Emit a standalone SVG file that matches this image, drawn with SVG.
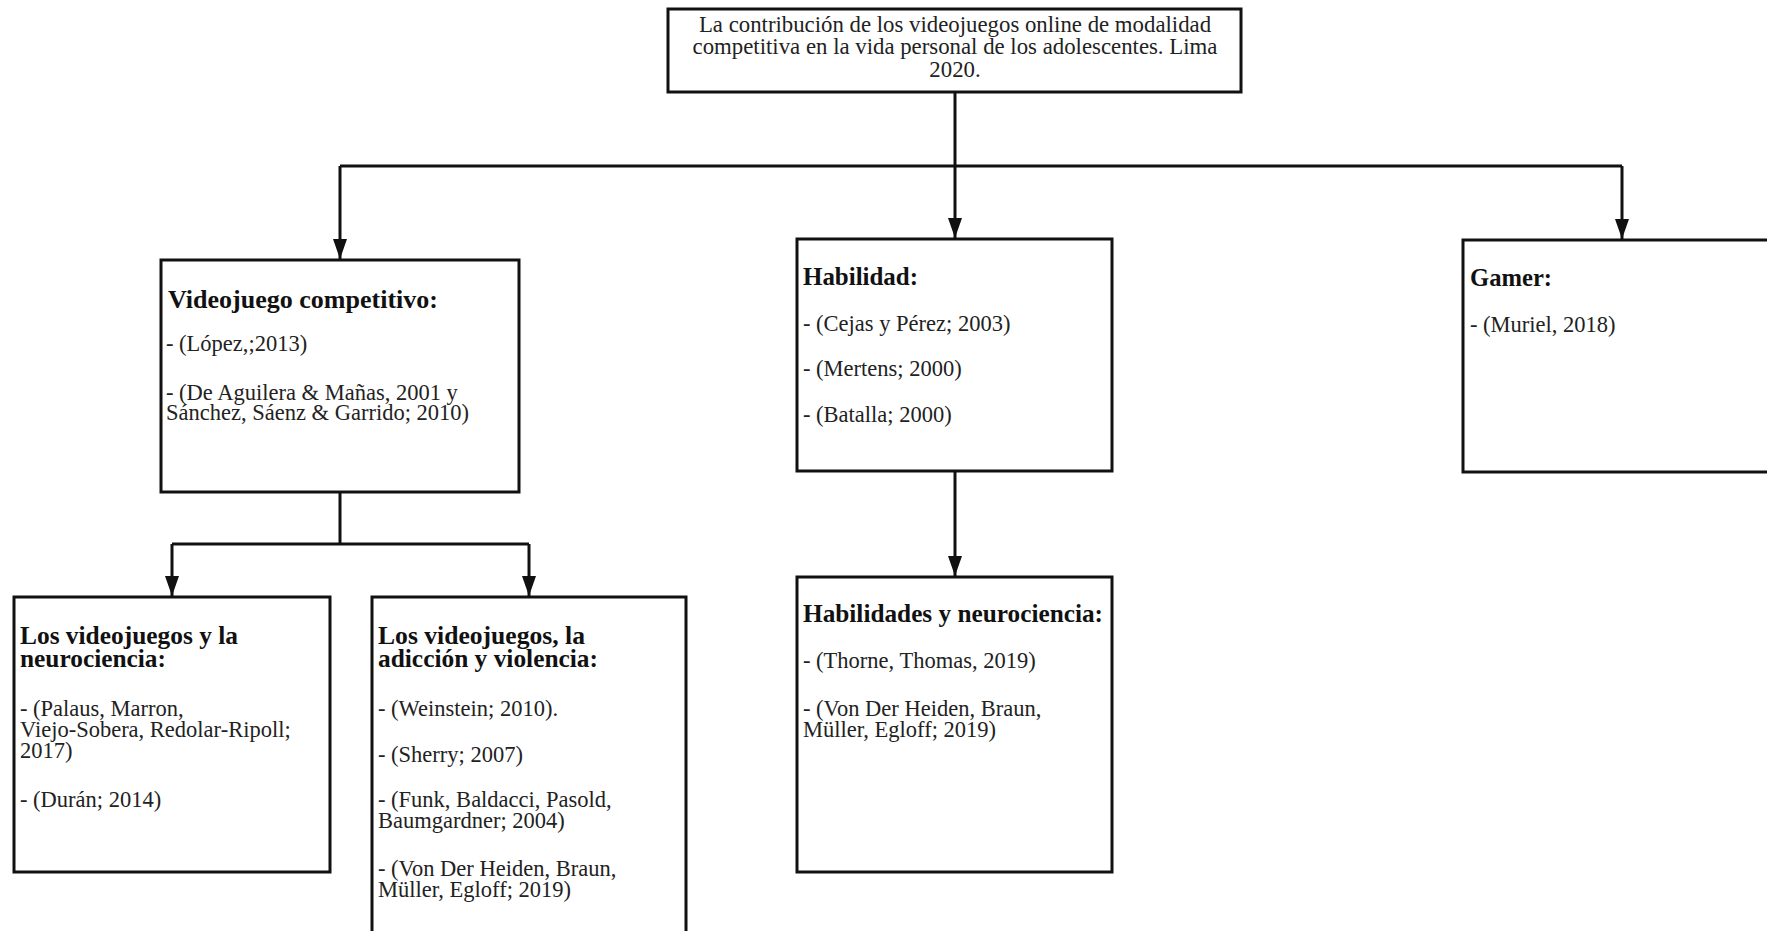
<svg xmlns="http://www.w3.org/2000/svg" width="1767" height="931" viewBox="0 0 1767 931">
<defs>
<style>
.box{fill:#fff;stroke:#111;stroke-width:3}
.t{font-family:"Liberation Serif","Times New Roman",serif;font-size:22.5px;fill:#222}
.h{font-family:"Liberation Serif","Times New Roman",serif;font-size:24.5px;font-weight:bold;fill:#111}
.title{font-family:"Liberation Serif","Times New Roman",serif;font-size:22.8px;fill:#222;text-anchor:middle}
.c{fill:none;stroke:#111;stroke-width:3}
</style>
<marker id="arr" viewBox="0 0 20 14" refX="20" refY="7" markerWidth="20" markerHeight="14" markerUnits="userSpaceOnUse" orient="auto">
<path d="M0,0 L20,7 L0,14 z" fill="#111"/>
</marker>
</defs>
<rect width="1767" height="931" fill="#fff"/>
<g id="connectors">
<path class="c" d="M955,92 V238" marker-end="url(#arr)"/>
<path class="c" d="M340,166 H1622"/>
<path class="c" d="M340,166 V259" marker-end="url(#arr)"/>
<path class="c" d="M1622,166 V239" marker-end="url(#arr)"/>
<path class="c" d="M340,492 V544"/>
<path class="c" d="M172,544 H529"/>
<path class="c" d="M172,544 V596" marker-end="url(#arr)"/>
<path class="c" d="M529,544 V596" marker-end="url(#arr)"/>
<path class="c" d="M955,471 V576" marker-end="url(#arr)"/>
</g>
<g id="n-root">
<rect class="box" x="668" y="9" width="573" height="83"/>
<text class="title" x="955" y="32">La contribución de los videojuegos online de modalidad<tspan x="955" dy="22">competitiva en la vida personal de los adolescentes. Lima</tspan><tspan x="955" dy="23">2020.</tspan></text>
</g>
<g id="n-videojuego">
<rect class="box" x="161" y="260" width="358" height="232"/>
<text class="h" x="168" y="308" textLength="270" lengthAdjust="spacingAndGlyphs">Videojuego competitivo:</text>
<text class="t" x="166" y="351">- (López,;2013)</text>
<text class="t" x="166" y="400">- (De Aguilera &amp; Mañas, 2001 y<tspan x="166" dy="20">Sánchez, Sáenz &amp; Garrido; 2010)</tspan></text>
</g>
<g id="n-habilidad">
<rect class="box" x="797" y="239" width="315" height="232"/>
<text class="h" x="803" y="285" textLength="115" lengthAdjust="spacingAndGlyphs">Habilidad:</text>
<text class="t" x="803" y="331">- (Cejas y Pérez; 2003)</text>
<text class="t" x="803" y="376">- (Mertens; 2000)</text>
<text class="t" x="803" y="422">- (Batalla; 2000)</text>
</g>
<g id="n-gamer">
<rect class="box" x="1463" y="240" width="320" height="232"/>
<text class="h" x="1470" y="286" textLength="82" lengthAdjust="spacingAndGlyphs">Gamer:</text>
<text class="t" x="1470" y="332">- (Muriel, 2018)</text>
</g>
<g id="n-neuro">
<rect class="box" x="14" y="597" width="316" height="275"/>
<text class="h" x="20" y="644"><tspan textLength="218" lengthAdjust="spacingAndGlyphs">Los videojuegos y la</tspan><tspan x="20" dy="23" textLength="146" lengthAdjust="spacingAndGlyphs">neurociencia:</tspan></text>
<text class="t" x="20" y="716">- (Palaus, Marron,<tspan x="20" dy="21">Viejo-Sobera, Redolar-Ripoll;</tspan><tspan x="20" dy="21">2017)</tspan></text>
<text class="t" x="20" y="807">- (Durán; 2014)</text>
</g>
<g id="n-adiccion">
<rect class="box" x="372" y="597" width="314" height="350"/>
<text class="h" x="378" y="644"><tspan textLength="207" lengthAdjust="spacingAndGlyphs">Los videojuegos, la</tspan><tspan x="378" dy="23" textLength="220" lengthAdjust="spacingAndGlyphs">adicción y violencia:</tspan></text>
<text class="t" x="378" y="716">- (Weinstein; 2010).</text>
<text class="t" x="378" y="762">- (Sherry; 2007)</text>
<text class="t" x="378" y="807">- (Funk, Baldacci, Pasold,<tspan x="378" dy="21">Baumgardner; 2004)</tspan></text>
<text class="t" x="378" y="876">- (Von Der Heiden, Braun,<tspan x="378" dy="21">Müller, Egloff; 2019)</tspan></text>
</g>
<g id="n-habneuro">
<rect class="box" x="797" y="577" width="315" height="295"/>
<text class="h" x="803" y="622" textLength="300" lengthAdjust="spacingAndGlyphs">Habilidades y neurociencia:</text>
<text class="t" x="803" y="668">- (Thorne, Thomas, 2019)</text>
<text class="t" x="803" y="716">- (Von Der Heiden, Braun,<tspan x="803" dy="21">Müller, Egloff; 2019)</tspan></text>
</g>
</svg>
